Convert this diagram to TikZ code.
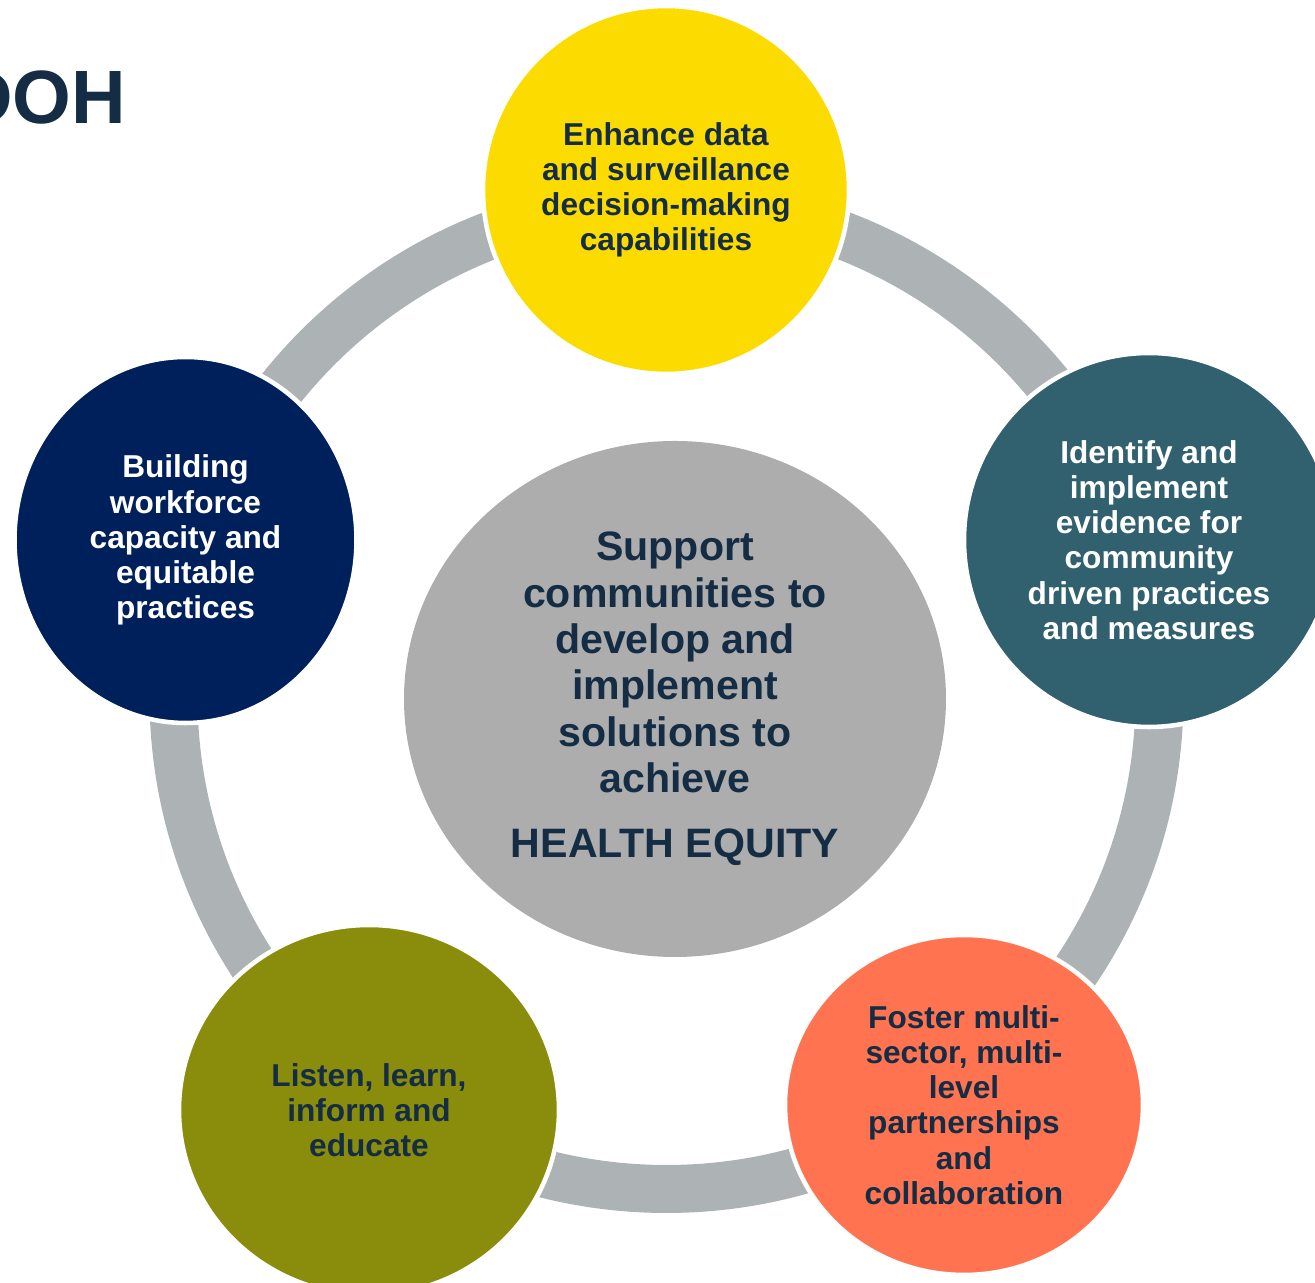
\documentclass[tikz,border=0pt]{standalone}
\usepackage{fontspec}
\setmainfont{Liberation Sans}
\usetikzlibrary{shapes.geometric}

\definecolor{ringgray}{HTML}{ADB3B4}
\definecolor{hubgray}{HTML}{ADADAD}
\definecolor{inknavy}{HTML}{142D44}
\definecolor{sunyellow}{HTML}{FCDC00}
\definecolor{deepteal}{HTML}{31606F}
\definecolor{coral}{HTML}{FF7350}
\definecolor{olive}{HTML}{8A8C0B}
\definecolor{royalnavy}{HTML}{00205B}

\tikzset{
  bubble/.style={ellipse, draw=white, line width=1.3pt, inner sep=0pt, align=center,
    font=\bfseries\fontsize{9}{10}\selectfont},
  darkink/.style={text=inknavy},
  lightink/.style={text=white}
}

\begin{document}
\begin{tikzpicture}
\useasboundingbox (0,0) rectangle (13.15,-12.83);
\clip (0,0) rectangle (13.15,-12.83);

% title, cut at the left edge
\node[anchor=base east, inner sep=0pt, text=inknavy, font=\bfseries\fontsize{21.5}{24}\selectfont] (doh) at (1.27,-1.24) {DOH};

% ring behind the five priorities
\coordinate (hub) at (6.665,-6.96);
\draw[ringgray, line width=0.48cm] (hub) circle (4.93);

% centre
\node[ellipse, fill=hubgray, inner sep=0pt, minimum width=5.42cm, minimum height=5.16cm, align=center, text=inknavy, font=\bfseries\fontsize{11.7}{13.2}\selectfont] (equity) at (6.75,-6.99)
  {Support\\communities to\\develop and\\implement\\solutions to\\achieve\\[5.3pt]HEALTH EQUITY};

% priorities
\node[bubble, darkink, fill=sunyellow, minimum width=3.66cm, minimum height=3.68cm] (data) at (6.66,-1.90)
  {Enhance data\\and surveillance\\decision-making\\capabilities};
\node[bubble, lightink, fill=deepteal, minimum width=3.70cm, minimum height=3.74cm] (evidence) at (11.49,-5.40)
  {Identify and\\implement\\evidence for\\community\\driven practices\\and measures};
\node[bubble, darkink, fill=coral, minimum width=3.58cm, minimum height=3.40cm] (partners) at (9.64,-11.05)
  {Foster multi-\\sector, multi-\\level\\partnerships\\and\\collaboration};
\node[bubble, darkink, fill=olive, minimum width=3.80cm, minimum height=3.70cm] (educate) at (3.69,-11.10)
  {Listen, learn,\\inform and\\educate};
\node[bubble, lightink, fill=royalnavy, minimum width=3.42cm, minimum height=3.66cm] (workforce) at (1.855,-5.40)
  {Building\\workforce\\capacity and\\equitable\\practices};

\end{tikzpicture}
\end{document}
